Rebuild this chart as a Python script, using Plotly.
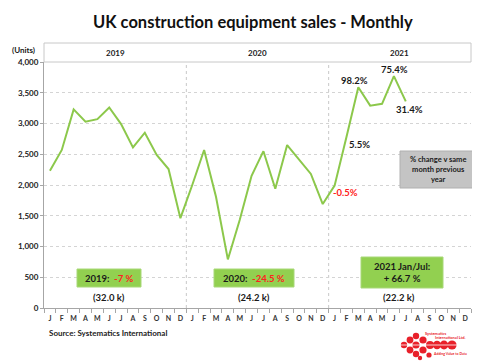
import plotly.graph_objects as go

months = ["J", "F", "M", "A", "M", "J", "J", "A", "S", "O", "N", "D"]
years = ["2019", "2020", "2021"]
sales_2019 = [2230, 2570, 3230, 3030, 3070, 3260, 2990, 2610, 2850, 2490, 2260, 1460]
sales_2020 = [2000, 2570, 1810, 790, 1430, 2150, 2550, 1940, 2650, 2410, 2180, 1690]
sales_2021 = [1990, 2780, 3590, 3290, 3320, 3770, 3360]

yoy_labels = [("-0.5%", 24), ("5.5%", 25), ("98.2%", 26), ("75.4%", 29), ("31.4%", 30)]
year_summary = [("2019:", "-7 %", "(32.0 k)"), ("2020:", "-24.5 %", "(24.2 k)"),
                ("2021 Jan/Jul:", "+ 66.7 %", "(22.2 k)")]

values = sales_2019 + sales_2020 + sales_2021
xs = list(range(len(values)))
ticktext = months * 3
n = len(ticktext)

FONT = "Lato"
DARK = "#1a1a1a"
GREEN_LINE = "#8CC84B"
GREEN_BOX = "#92D050"
RED = "#FF2020"

# page-pixel geometry of the plot area (page has an 8px body margin)
OFF = 8
L, R, T, B = 44, 471, 62, 308
PW, PH = 480, 363
W, H = PW - OFF, PH - OFF


def px(x):
    return (x - L) / (R - L)


def py(y):
    return (B - y) / (B - T)


fig = go.Figure()
fig.add_trace(go.Scatter(x=xs, y=values, mode="lines",
                         line=dict(color=GREEN_LINE, width=2),
                         hoverinfo="skip", showlegend=False))

shapes = []
annotations = []

# year header box
shapes.append(dict(type="rect", xref="paper", yref="paper", x0=0, x1=1, y0=1, y1=py(43),
                   line=dict(color="#c8c8c8", width=1), fillcolor="white", layer="below"))
for i, yr in enumerate(years):
    annotations.append(dict(text="<b>%s</b>" % yr, xref="x", yref="paper", x=i * 12 + 5.5,
                            y=py(52.5), showarrow=False, xanchor="center", yanchor="middle",
                            font=dict(family=FONT, size=8, color=DARK)))

# dashed year separators
for b in (11.5, 23.5):
    shapes.append(dict(type="line", xref="x", yref="paper", x0=b, x1=b, y0=0, y1=1,
                       line=dict(color="#c8c8c8", width=1, dash="dot"), layer="below"))

# title
annotations.append(dict(text="<b>UK construction equipment sales - Monthly</b>", xref="paper",
                        yref="paper", x=px(253), y=py(22), showarrow=False, xanchor="center",
                        yanchor="middle", font=dict(family=FONT, size=16.5, color="#111111")))
# units
annotations.append(dict(text="<b>(Units)</b>", xref="paper", yref="paper", x=px(23), y=py(50),
                        showarrow=False, xanchor="center", yanchor="middle",
                        font=dict(family=FONT, size=8, color=DARK)))

# yoy labels
label_pos = {"-0.5%": (345, 192.5), "5.5%": (359, 144), "98.2%": (354, 80.5),
             "75.4%": (394, 70), "31.4%": (409, 109)}
for txt, idx in yoy_labels:
    cx, cy = label_pos[txt]
    col = RED if txt.startswith("-") else DARK
    annotations.append(dict(text="<b>%s</b>" % txt, xref="paper", yref="paper", x=px(cx),
                            y=py(cy), showarrow=False, xanchor="center", yanchor="middle",
                            font=dict(family=FONT, size=9.5, color=col)))

# gray note box
shapes.append(dict(type="rect", xref="paper", yref="paper", x0=px(400), x1=px(475),
                   y0=py(188), y1=py(151), line=dict(color="#b0b0b0", width=1),
                   fillcolor="#C4C4C4"))
annotations.append(dict(text="<b>% change v same<br>month previous<br>year</b>", xref="paper",
                        yref="paper", x=px(437.5), y=py(169.5), showarrow=False,
                        xanchor="center", yanchor="middle", align="center",
                        font=dict(family=FONT, size=7.5, color=DARK)))

# green summary boxes
boxes = [(77, 141, 269, 287), (214, 294, 269, 287), (361, 443, 257, 288)]
totals_x = [109, 254, 399]
for (x0, x1, y0, y1), (lab, pct, tot), tx in zip(boxes, year_summary, totals_x):
    shapes.append(dict(type="rect", xref="paper", yref="paper", x0=px(x0), x1=px(x1),
                       y0=py(y1), y1=py(y0), line=dict(color="#a8d878", width=1),
                       fillcolor=GREEN_BOX))
    if lab.startswith("2021"):
        txt = "<b>%s<br>%s</b>" % (lab, pct)
    else:
        txt = "<b>%s  <span style='color:%s'>%s</span></b>" % (lab, RED, pct)
    annotations.append(dict(text=txt, xref="paper", yref="paper", x=px((x0 + x1) / 2),
                            y=py((y0 + y1) / 2), showarrow=False, xanchor="center",
                            yanchor="middle", align="center",
                            font=dict(family=FONT, size=9.5, color=DARK)))
    annotations.append(dict(text="<b>%s</b>" % tot, xref="paper", yref="paper", x=px(tx),
                            y=py(297), showarrow=False, xanchor="center", yanchor="middle",
                            font=dict(family=FONT, size=9.5, color=DARK)))

# source
annotations.append(dict(text="<b>Source: Systematics International</b>", xref="paper",
                        yref="paper", x=px(47), y=py(333), showarrow=False, xanchor="left",
                        yanchor="middle", font=dict(family=FONT, size=8, color="#222222")))

# logo (decorative)
logo_circles = [(404, 345, 3.2), (410, 340, 3.4), (410, 350, 3.4), (416, 336, 3.2),
                (416, 345, 3.6), (416, 354, 3.2), (423, 340, 3.6), (423, 350, 3.6),
                (430, 345, 4.0), (437, 345, 4.2), (444, 345, 4.4), (452, 345, 4.6),
                (429, 355, 2.6), (420, 358, 2.2)]
for cx, cy, r in logo_circles:
    shapes.append(dict(type="circle", xref="paper", yref="paper", x0=px(cx - r), x1=px(cx + r),
                       y0=py(cy + r), y1=py(cy - r), line=dict(width=0), fillcolor="#E8202A"))
shapes.append(dict(type="line", xref="paper", yref="paper", x0=px(400), x1=px(458),
                   y0=py(345), y1=py(345), line=dict(color="white", width=0.8)))
annotations.append(dict(text="<b>Systematics</b>", xref="paper", yref="paper", x=px(423),
                        y=py(333), showarrow=False, xanchor="left", yanchor="middle",
                        font=dict(family=FONT, size=4, color="#E8202A")))
annotations.append(dict(text="<b>International Ltd.</b>", xref="paper", yref="paper", x=px(433),
                        y=py(337.5), showarrow=False, xanchor="left", yanchor="middle",
                        font=dict(family=FONT, size=4, color="#E8202A")))
annotations.append(dict(text="<b>Adding Value to Data</b>", xref="paper", yref="paper", x=px(431),
                        y=py(353.5), showarrow=False, xanchor="left", yanchor="middle",
                        font=dict(family=FONT, size=3.5, color="#E8202A")))

fig.update_layout(
    width=W, height=H,
    margin=dict(l=L - OFF, r=PW - R, t=T - OFF, b=PH - B, pad=0),
    paper_bgcolor="white", plot_bgcolor="white",
    shapes=shapes, annotations=annotations,
    showlegend=False,
    xaxis=dict(range=[-0.5, n - 0.5], tickmode="array", tickvals=list(range(n)),
               ticktext=["<b>%s</b>" % t for t in ticktext], ticks="", showgrid=False,
               zeroline=False, showline=True, linecolor="#a6a6a6", linewidth=1,
               tickfont=dict(family=FONT, size=7, color="#333333"), ticklabelstandoff=4,
               minor=dict(tickvals=[i - 0.5 for i in range(n + 1)], ticks="outside",
                          ticklen=4, tickcolor="#a6a6a6", showgrid=False),
               fixedrange=True),
    yaxis=dict(range=[0, 4000], tickmode="array", tickvals=list(range(0, 4001, 500)),
               ticktext=["<b>%s</b>" % f"{v:,}" for v in range(0, 4001, 500)],
               showgrid=True, gridcolor="#d4d4d4", griddash="dot", gridwidth=1,
               zeroline=False, showline=True, linecolor="#a6a6a6", linewidth=1,
               ticks="outside", ticklen=3, tickcolor="#a6a6a6",
               tickfont=dict(family=FONT, size=8, color="#222222"), fixedrange=True),
)

fig.write_html("out.html")
